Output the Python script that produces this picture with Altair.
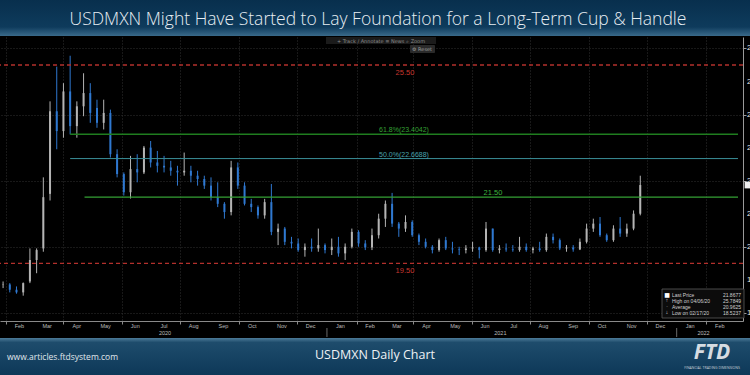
import altair as alt
import pandas as pd

# ---------------- data (weekly OHLC) ----------------
week_starts = pd.date_range("2020-01-27", periods=96, freq="7D")

opens = [18.85, 18.86, 18.70, 18.62, 18.95, 19.60, 19.95, 21.60, 24.10, 23.50,
         24.70, 23.65, 24.25, 24.65, 24.20, 23.75, 24.05, 22.80, 22.20, 21.65,
         22.35, 22.25, 23.00, 22.55, 22.45, 22.40, 22.30, 22.25, 22.30, 22.15,
         22.05, 21.85, 21.50, 21.30, 21.05, 22.40, 21.85, 21.30, 21.20, 20.95,
         21.35, 20.45, 20.55, 20.15, 20.10, 19.90, 20.00, 19.95, 20.05, 19.90,
         20.00, 19.80, 20.00, 20.45, 20.10, 19.98, 20.35, 20.85, 21.30, 20.70,
         20.55, 20.75, 20.35, 20.15, 20.00, 19.90, 20.20, 19.95, 19.92, 19.90,
         19.95, 19.98, 19.90, 20.55, 19.90, 19.95, 19.92, 19.90, 20.00, 19.90,
         19.95, 19.90, 20.30, 20.20, 19.95, 19.98, 19.92, 20.15, 20.55, 20.70,
         20.35, 20.20, 20.55, 20.40, 20.55, 21.00]
highs = [18.95, 18.90, 18.80, 18.92, 19.95, 19.95, 22.10, 24.40, 25.45, 24.95,
         25.78, 24.40, 25.25, 24.95, 24.45, 24.45, 24.15, 22.95, 22.25, 22.75,
         22.80, 23.05, 23.20, 22.90, 22.75, 22.60, 22.45, 22.85, 22.45, 22.30,
         22.15, 22.10, 21.95, 21.35, 22.60, 22.55, 21.95, 21.45, 21.25, 21.45,
         21.90, 20.70, 20.60, 20.30, 20.25, 20.10, 20.25, 20.55, 20.10, 20.25,
         20.30, 20.10, 20.55, 20.50, 20.20, 20.55, 21.00, 21.40, 21.63, 20.75,
         20.95, 20.80, 20.40, 20.25, 20.05, 20.25, 20.30, 20.15, 20.00, 20.05,
         20.15, 20.00, 20.75, 20.55, 20.05, 20.10, 20.05, 20.30, 20.10, 20.00,
         20.15, 20.40, 20.40, 20.25, 20.05, 20.05, 20.25, 20.70, 20.85, 20.90,
         20.40, 20.65, 20.90, 20.70, 21.10, 22.15]
lows = [18.75, 18.62, 18.58, 18.52, 18.90, 19.20, 19.85, 21.40, 22.95, 23.30,
        23.40, 23.30, 23.95, 23.75, 23.60, 23.55, 22.70, 22.10, 21.55, 21.46,
        21.95, 22.20, 22.40, 22.25, 22.25, 22.15, 21.85, 22.15, 21.95, 21.85,
        21.75, 21.40, 21.20, 20.85, 20.95, 21.75, 21.25, 21.05, 20.85, 20.85,
        20.35, 20.05, 20.05, 19.95, 19.85, 19.70, 19.85, 19.85, 19.80, 19.75,
        19.70, 19.60, 19.95, 20.00, 19.90, 19.90, 20.25, 20.60, 20.60, 20.30,
        20.45, 20.30, 20.05, 19.95, 19.80, 19.85, 19.90, 19.80, 19.75, 19.80,
        19.85, 19.65, 19.85, 19.85, 19.80, 19.85, 19.85, 19.85, 19.85, 19.80,
        19.85, 19.85, 20.10, 19.90, 19.85, 19.85, 19.90, 20.10, 20.45, 20.30,
        20.15, 20.15, 20.30, 20.30, 20.50, 20.95]
closes = [18.86, 18.70, 18.62, 18.90, 19.60, 19.90, 21.50, 24.10, 23.50, 24.70,
          23.65, 24.25, 24.65, 24.05, 23.75, 24.05, 22.80, 22.20, 21.65, 22.35,
          22.25, 23.00, 22.55, 22.45, 22.40, 22.30, 22.25, 22.30, 22.15, 22.05,
          21.85, 21.50, 21.30, 21.05, 22.40, 21.85, 21.30, 21.20, 20.95, 21.35,
          20.45, 20.55, 20.15, 20.10, 19.90, 20.00, 19.95, 20.05, 19.90, 20.00,
          19.80, 20.00, 20.45, 20.10, 19.98, 20.35, 20.85, 21.30, 20.70, 20.55,
          20.75, 20.35, 20.15, 20.00, 19.90, 20.20, 19.95, 19.92, 19.90, 19.95,
          19.98, 19.90, 20.55, 19.90, 19.95, 19.92, 19.90, 20.00, 19.90, 19.95,
          19.90, 20.30, 20.20, 19.95, 19.98, 19.92, 20.15, 20.55, 20.70, 20.35,
          20.20, 20.55, 20.40, 20.55, 21.00, 21.8677]

level_red = [25.50, 19.50]
level_red_text = ["25.50", "19.50"]
fib618 = 23.4042
fib500 = 22.6688
level_green = 21.50

y_ticks = [18, 19, 20, 21, 22, 23, 24, 25, 26]

month_names = ["Feb", "Mar", "Apr", "May", "Jun", "Jul", "Aug", "Sep", "Oct", "Nov", "Dec",
               "Jan", "Feb", "Mar", "Apr", "May", "Jun", "Jul", "Aug", "Sep", "Oct", "Nov", "Dec",
               "Jan", "Feb"]
year_labels = ["2020", "2021", "2022"]
year_label_dates = ["2020-07-16", "2021-07-01", "2022-01-29"]
year_breaks = ["2021-01-01", "2022-01-01"]

legend_labels = ["Last Price", "High on 04/06/20", "Average", "Low on 02/17/20"]
legend_values = ["21.8677", "25.7849", "20.9625", "18.5237"]

# ---------------- tables ----------------
df = pd.DataFrame({
    "date": (week_starts + pd.Timedelta(days=2)).strftime("%Y-%m-%d"),
    "open": opens, "high": highs, "low": lows, "close": closes,
})
df["dir"] = ["up" if c >= o else "down" for o, c in zip(opens, closes)]

month_starts = pd.date_range("2020-02-01", periods=26, freq="MS")
month_df = pd.DataFrame({
    "date": (month_starts[:len(month_names)] + pd.Timedelta(days=14)).strftime("%Y-%m-%d"),
    "label": month_names,
})
year_df = pd.DataFrame({"date": year_label_dates, "label": year_labels})
break_df = pd.DataFrame({"date": year_breaks})
ytick_df = pd.DataFrame({"v": y_ticks, "t": [str(v) for v in y_ticks]})

W, H = 743, 284
one = pd.DataFrame({"a": [0]})

x_scale = alt.Scale(type="utc",
                    domain=[alt.DateTime(year=2020, month=1, date=31, utc=True),
                            alt.DateTime(year=2022, month=3, date=6, utc=True)])
y_scale = alt.Scale(domain=[17.754, 26.347], nice=False, zero=False)

x_axis = alt.Axis(values=[alt.DateTime(year=d.year, month=d.month, date=1, utc=True) for d in month_starts],
                  labels=False, title=None, grid=True, gridColor="#303030", gridDash=[1, 2],
                  tickColor="#8a8a8a", tickSize=3, domainColor="#8a8a8a")
y_axis = alt.Axis(orient="right", values=y_ticks, title=None, grid=True,
                  gridColor="#303030", gridDash=[1, 2], labels=False, tickSize=3,
                  tickColor="#9a9a9a", domainColor="#9a9a9a")

color_enc = alt.Color("dir:N", scale=alt.Scale(domain=["up", "down"], range=["#b4b4b4", "#2f78d0"]),
                      legend=None)

wicks = alt.Chart(df).mark_rule(strokeWidth=1).encode(
    x=alt.X("date:T", scale=x_scale, axis=x_axis),
    y=alt.Y("low:Q", scale=y_scale, axis=y_axis),
    y2="high:Q",
    color=color_enc,
)
bodies = alt.Chart(df).mark_bar(size=2).encode(
    x="date:T", y="open:Q", y2="close:Q", color=color_enc,
)

# right-edge tick labels (cut by the page edge as in the original)
ytick_text = alt.Chart(ytick_df).mark_text(fontSize=8, color="#e6e6e6", align="left",
                                           baseline="middle", font="Liberation Sans").encode(
    x=alt.value(747), y="v:Q", text="t:N")

red_df = pd.DataFrame({"level": level_red, "text": level_red_text})
red_lines = alt.Chart(red_df).mark_rule(color="#b3302c", strokeDash=[4, 3], strokeWidth=1.3).encode(
    y="level:Q")
red_text = alt.Chart(red_df).mark_text(color="#c8372f", fontSize=7.5, dy=8,
                                       font="Liberation Sans").encode(
    x=alt.value(405), y="level:Q", text="text:N")

fib_df = pd.DataFrame({"start": ["2020-04-08"], "end": ["2022-03-06"],
                       "l618": [fib618], "l500": [fib500], "l215": [level_green],
                       "s215": ["2020-04-23"]})
line618 = alt.Chart(fib_df).mark_rule(color="#1f7d1f", strokeWidth=1.3).encode(
    x="start:T", x2="end:T", y="l618:Q")
line500 = alt.Chart(fib_df).mark_rule(color="#3a8e98", strokeWidth=1).encode(
    x="start:T", x2="end:T", y="l500:Q")
line215 = alt.Chart(fib_df).mark_rule(color="#34a034", strokeWidth=1.3).encode(
    x="s215:T", x2="end:T", y="l215:Q")
text618 = alt.Chart(fib_df).mark_text(color="#35a035", fontSize=7, dy=-4,
                                      font="Liberation Sans").encode(
    x=alt.value(404), y="l618:Q", text=alt.value(f"61.8%({fib618:.4f})"))
text500 = alt.Chart(fib_df).mark_text(color="#4aa3ad", fontSize=7, dy=-4,
                                      font="Liberation Sans").encode(
    x=alt.value(404), y="l500:Q", text=alt.value(f"50.0%({fib500:.4f})"))
text215 = alt.Chart(fib_df).mark_text(color="#3db53d", fontSize=7.5, dy=-4,
                                      font="Liberation Sans").encode(
    x=alt.value(493), y="l215:Q", text=alt.value(f"{level_green:.2f}"))

# last price tag at right edge
last_df = pd.DataFrame({"last": [closes[-1]]})
last_tag = alt.Chart(last_df).mark_point(shape="square", filled=True, size=45, color="#f0f0f0",
                                         opacity=1).encode(x=alt.value(748), y="last:Q")

# x labels
month_text = alt.Chart(month_df).mark_text(fontSize=5.5, color="#bdbdbd",
                                           font="Liberation Sans").encode(
    x="date:T", y=alt.value(H + 5), text="label:N")
year_text = alt.Chart(year_df).mark_text(fontSize=5.5, color="#bdbdbd",
                                         font="Liberation Sans").encode(
    x="date:T", y=alt.value(H + 12), text="label:N")
year_rules = alt.Chart(break_df).mark_rule(color="#6a6a6a").encode(
    x="date:T", y=alt.value(H + 7), y2=alt.value(H + 16))

# header / footer bands
title_grad = {"gradient": "linear", "x1": 0, "x2": 0, "y1": 0, "y2": 1,
              "stops": [{"offset": 0, "color": "#082f4d"}, {"offset": 0.75, "color": "#0e3b5c"},
                        {"offset": 1, "color": "#3a6a8a"}]}
foot_grad = {"gradient": "linear", "x1": 0, "x2": 0, "y1": 0, "y2": 1,
             "stops": [{"offset": 0, "color": "#4d7b98"}, {"offset": 0.12, "color": "#1e4c6c"},
                       {"offset": 1, "color": "#0d3858"}]}
header = alt.Chart(one).mark_rect(color=title_grad).encode(
    x=alt.value(0), x2=alt.value(750), y=alt.value(-37), y2=alt.value(-1))
footer = alt.Chart(one).mark_rect(color=foot_grad).encode(
    x=alt.value(0), x2=alt.value(750), y=alt.value(H + 17), y2=alt.value(H + 54))
title = alt.Chart(one).mark_text(
    text="USDMXN Might Have Started to Lay Foundation for a Long-Term Cup & Handle",
    font="Open Sans", fontSize=17.5, fontWeight=300, color="#e8eef3", align="center",
    baseline="middle").encode(x=alt.value(378), y=alt.value(-17))
foot_left = alt.Chart(one).mark_text(text="www.articles.ftdsystem.com", font="Open Sans",
                                     fontSize=8.5, color="#e0e7ec", align="left",
                                     baseline="middle").encode(x=alt.value(7), y=alt.value(H + 36))
foot_mid = alt.Chart(one).mark_text(text="USDMXN Daily Chart", font="Open Sans", fontSize=12.5,
                                    color="#eef2f5", align="center", baseline="middle").encode(
    x=alt.value(375), y=alt.value(H + 34))
logo = alt.Chart(one).mark_text(text="FTD", font="Open Sans", fontSize=21, fontWeight="bold",
                                fontStyle="italic", color="#d6dce2", align="center",
                                baseline="middle").encode(x=alt.value(712), y=alt.value(H + 32))
logo_sub = alt.Chart(one).mark_text(text="FINANCIAL TRADING DIMENSIONS", font="Open Sans",
                                    fontSize=3.5, color="#c8d0d8", align="center",
                                    baseline="middle").encode(x=alt.value(712), y=alt.value(H + 47))

# toolbar
tool_bg = alt.Chart(one).mark_rect(color="#1b1b1b").encode(
    x=alt.value(326), x2=alt.value(436), y=alt.value(0), y2=alt.value(7))
tool_txt = alt.Chart(one).mark_text(text="+ Track   ∕ Annotate   ≡ News   ⌕ Zoom",
                                    font="DejaVu Sans", fontSize=5, color="#8c8c8c",
                                    align="center", baseline="middle").encode(
    x=alt.value(381), y=alt.value(3.5))
reset_bg = alt.Chart(one).mark_rect(color="#2a2a2a", cornerRadius=1).encode(
    x=alt.value(410), x2=alt.value(435), y=alt.value(8), y2=alt.value(16))
reset_txt = alt.Chart(one).mark_text(text="⚙ Reset", font="DejaVu Sans", fontSize=5,
                                     color="#a0a0a0", align="center", baseline="middle").encode(
    x=alt.value(422), y=alt.value(12))

# info box bottom right
box = alt.Chart(one).mark_rect(color="#0c0c0c", stroke="#5a5a5a", strokeWidth=0.8).encode(
    x=alt.value(662), x2=alt.value(744), y=alt.value(252), y2=alt.value(281))
info_layers = [box]
markers = ["■", "↑", "-", "↓"]
for i, (lab, val, mk) in enumerate(zip(legend_labels, legend_values, markers)):
    yy = 258 + 6 * i
    info_layers.append(alt.Chart(one).mark_text(text=mk, font="DejaVu Sans",
                                                fontSize=6 if i == 0 else 4.5,
                                                color="#ffffff" if i == 0 else "#9a9a9a",
                                                align="center", baseline="middle").encode(
        x=alt.value(667), y=alt.value(yy)))
    info_layers.append(alt.Chart(one).mark_text(text=lab, font="Liberation Sans", fontSize=5,
                                                color="#d0d0d0", align="left",
                                                baseline="middle").encode(
        x=alt.value(672), y=alt.value(yy)))
    info_layers.append(alt.Chart(one).mark_text(text=val, font="Liberation Sans", fontSize=5,
                                                color="#d0d0d0", align="right",
                                                baseline="middle").encode(
        x=alt.value(741), y=alt.value(yy)))

chart = alt.layer(
    wicks, bodies, red_lines, line618, line500, line215,
    red_text, text618, text500, text215, ytick_text, last_tag,
    month_text, year_text, year_rules,
    header, footer, title, foot_left, foot_mid, logo, logo_sub,
    tool_bg, tool_txt, reset_bg, reset_txt, *info_layers,
).properties(
    width=W, height=H,
    autosize=alt.AutoSizeParams(type="none"),
    padding={"left": 0, "top": 37, "right": 7, "bottom": 54},
    background="#000000",
).configure_view(stroke=None, fill="#000000")

chart.save("out.html", embed_options={"renderer": "svg", "actions": False})
